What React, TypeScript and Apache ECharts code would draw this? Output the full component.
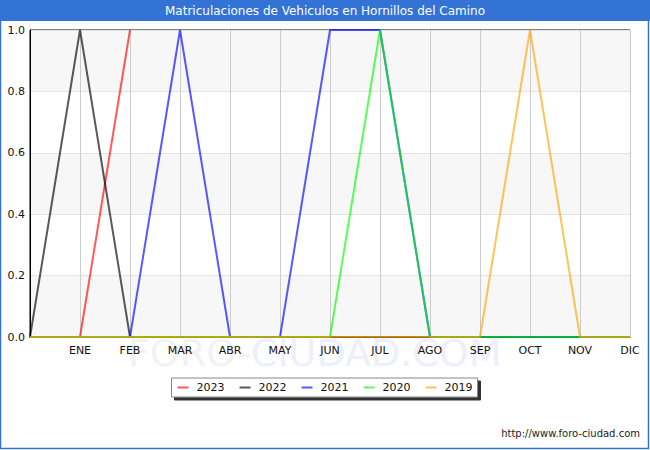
import React, { useEffect, useRef } from "react";
import * as echarts from "echarts";

const categories = ["", "ENE", "FEB", "MAR", "ABR", "MAY", "JUN", "JUL", "AGO", "SEP", "OCT", "NOV", "DIC"];
const years = ["2023", "2022", "2021", "2020", "2019"];
const s2023 = [0, 0, 1];
const s2022 = [0, 1, 0, 0, 0, 0, 0, 0, 0, 0, 0, 0, 0];
const s2021 = [0, 0, 0, 1, 0, 0, 1, 1, 0, 0, 0, 0, 0];
const s2020 = [0, 0, 0, 0, 0, 0, 0, 1, 0, 0, 0, 0, 0];
const s2019 = [0, 0, 0, 0, 0, 0, 0, 0, 0, 0, 1, 0, 0];
const seriesData = [s2023, s2022, s2021, s2020, s2019];
const colors = ["#ff0000", "#000000", "#0000ff", "#00ff00", "#ffa500"];
const titleText = "Matriculaciones de Vehiculos en Hornillos del Camino";
const urlText = "http://www.foro-ciudad.com";

const FONT = "DejaVu Sans, sans-serif";

export default function App() {
  const ref = useRef<HTMLDivElement>(null);
  useEffect(() => {
    if (!ref.current) return;
    const chart = echarts.init(ref.current, null, { renderer: "svg" });
    chart.setOption({
      animation: false,
      backgroundColor: "#ffffff",
      textStyle: { fontFamily: FONT },
      graphic: [
        {
          type: "text",
          left: 128,
          top: 334,
          z: 0,
          silent: true,
          style: {
            text: "{a|FORO-}{b|CIUDAD.COM}",
            rich: {
              a: { fontSize: 38, fontFamily: FONT, fill: "#f2f2f2" },
              b: { fontSize: 38, fontFamily: FONT, fill: "#eeeefc" },
            },
          },
        },
        {
          type: "rect",
          shape: { x: 0, y: 0, width: 650, height: 21 },
          style: { fill: "#3473d6" },
          silent: true,
        },
        {
          type: "text",
          x: 325,
          y: 11,
          style: {
            text: titleText,
            fill: "#ffffff",
            fontSize: 12,
            fontFamily: FONT,
            align: "center",
            verticalAlign: "middle",
          },
        },
        {
          type: "rect",
          shape: { x: 0.5, y: 0.5, width: 648, height: 448 },
          style: { fill: "none", stroke: "#3473d6", lineWidth: 1.5 },
          silent: true,
        },
        {
          type: "text",
          x: 640,
          y: 433,
          style: {
            text: urlText,
            fill: "#222",
            fontSize: 10,
            fontFamily: FONT,
            align: "right",
            verticalAlign: "middle",
          },
        },
      ],
      legend: {
        data: years,
        left: "center",
        top: 378,
        orient: "horizontal",
        icon: "rect",
        itemWidth: 11,
        itemHeight: 2,
        itemGap: 15,
        padding: [4, 5, 4, 6],
        backgroundColor: "#ffffff",
        borderColor: "#888888",
        borderWidth: 1,
        shadowColor: "#333333",
        shadowOffsetX: 3,
        shadowOffsetY: 3,
        shadowBlur: 0,
        textStyle: { fontSize: 11, color: "#111", fontFamily: FONT, padding: [0, 0, 0, 3] },
      },
      grid: {
        left: 30,
        right: 20,
        top: 30,
        bottom: 113,
        show: true,
        borderColor: "#000",
        borderWidth: 1,
        backgroundColor: "transparent",
      },
      xAxis: {
        type: "category",
        data: categories,
        boundaryGap: false,
        axisLine: { show: true, lineStyle: { color: "#000" } },
        axisTick: { show: false },
        axisLabel: { interval: 0, fontSize: 11, color: "#111", margin: 8, fontFamily: FONT },
        splitLine: { show: true, lineStyle: { color: "#cccccc", width: 1 } },
      },
      yAxis: {
        type: "value",
        min: 0,
        max: 1,
        interval: 0.2,
        axisLine: { show: true, lineStyle: { color: "#000" } },
        axisTick: { show: false },
        axisLabel: {
          fontSize: 11,
          color: "#111",
          margin: 5,
          fontFamily: FONT,
          formatter: (v: number) => v.toFixed(1),
        },
        splitLine: { show: true, lineStyle: { color: "#e4e4e4", width: 1 } },
        splitArea: { show: true, areaStyle: { color: ["#f7f7f7", "#ffffff"] } },
      },
      series: years.map((y, i) => ({
        name: y,
        type: "line",
        data: seriesData[i],
        symbol: "none",
        color: colors[i],
        lineStyle: { color: colors[i], width: 2, opacity: 0.65 },
        itemStyle: { color: colors[i], opacity: 0.65 },
        z: 3 + i,
      })),
    });
    return () => chart.dispose();
  }, []);
  return (
    <div
      ref={ref}
      style={{ position: "fixed", left: 0, top: 0, width: 650, height: 450 }}
    />
  );
}
